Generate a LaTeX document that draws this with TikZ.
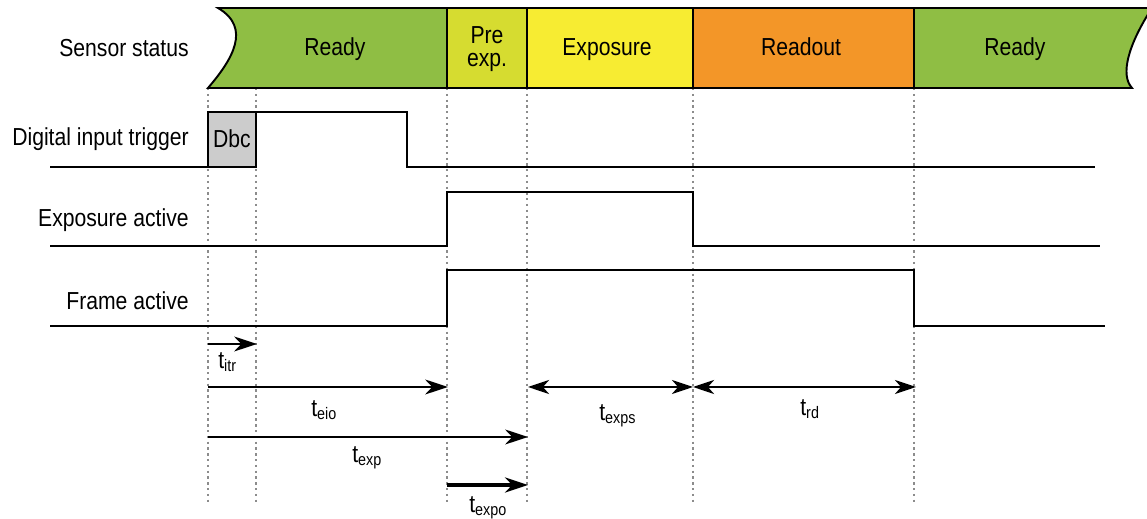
\documentclass[tikz,border=0pt]{standalone}
\usepackage{fontspec}
\setmainfont[FakeStretch=0.86]{Liberation Sans}
\usetikzlibrary{arrows.meta}
\definecolor{readyG}{RGB}{143,190,68}
\definecolor{preY}{RGB}{214,220,48}
\definecolor{expY}{RGB}{247,236,50}
\definecolor{readO}{RGB}{243,150,40}
\definecolor{dotG}{RGB}{140,140,140}
\definecolor{dbcG}{RGB}{204,204,204}
\newcommand{\tsub}[1]{{\fontsize{14}{15}\selectfont t}\raisebox{-1.2pt}{\fontsize{9.5}{10}\selectfont #1}}
\begin{document}
\begin{tikzpicture}[x=0.02cm,y=-0.02cm,
  lbl/.style={anchor=base east,font=\fontsize{14}{15}\selectfont,inner sep=0},
  stat/.style={anchor=base,font=\fontsize{14}{15}\selectfont,inner sep=0},
  sig/.style={line width=1.1pt},
  guide/.style={dotG,line width=1.2pt,dash pattern=on 1.3pt off 2pt},
  tarrow/.style={line width=1.2pt,-{Stealth[length=13pt,width=8.5pt,inset=4pt]}},
  tdarrow/.style={line width=1.2pt,{Stealth[length=12pt,width=8pt,inset=3.5pt]}-{Stealth[length=12pt,width=8pt,inset=3.5pt]}},
  tlab/.style={anchor=base west,inner sep=0}]
\useasboundingbox (0,0) rectangle (1147,519);

% time points
\foreach \n/\x in {t0/208,t1/256,t2/447,t3/527,t4/693,t5/914}{
  \coordinate (\n top) at (\x,88);
  \coordinate (\n bot) at (\x,502);
}
% guides
\foreach \n in {t0,t1,t2,t3,t4,t5}{
  \draw[guide] (\n top) -- (\n bot);
}

% status bar fills
\fill[readyG] (208,88) .. controls (232,60) and (252,28) .. (218,8) -- (447,8) -- (447,88) -- cycle;
\fill[preY] (447,8) rectangle (527,88);
\fill[expY] (527,8) rectangle (693,88);
\fill[readO] (693,8) rectangle (914,88);
\fill[readyG] (914,8) -- (1152,8) .. controls (1128,45) and (1120,75) .. (1132,88) -- (914,88) -- cycle;
\draw[sig] (208,88) .. controls (232,60) and (252,28) .. (218,8) -- (1152,8)
  .. controls (1128,45) and (1120,75) .. (1132,88) -- cycle;
\foreach \x in {447,527,693,914}{\draw[sig] (\x,8) -- (\x,88);}

\node[stat] (s1) at (335,56) {Ready};
\node[font=\fontsize{14}{13.5}\selectfont,align=center,inner sep=0] (s2) at (487,49) {Pre\\exp.};
\node[stat] (s3) at (607,56) {Exposure};
\node[stat] (s4) at (801,56) {Readout};
\node[stat] (s5) at (1015,56) {Ready};

% row labels
\node[lbl] (l1) at (189,57) {Sensor status};
\node[lbl] (l2) at (189,146) {Digital input trigger};
\node[lbl] (l3) at (189,227) {Exposure active};
\node[lbl] (l4) at (189,310) {Frame active};

% digital input trigger
\draw[sig, fill=dbcG] (208,167) rectangle (256,112);
\node[stat] (dbc) at (232,148) {Dbc};
\draw[sig] (50,167) -- (208,167);
\draw[sig] (256,112) -- (407,112) -- (407,167) -- (1095,167);

% exposure active
\draw[sig] (50,246) -- (447,246) -- (447,192) -- (693,192) -- (693,246) -- (1100,246);
% frame active
\draw[sig] (50,326) -- (447,326) -- (447,270) -- (914,270) -- (914,326) -- (1105,326);

% timing arrows
\coordinate (aitrS) at (208,344); \coordinate (aitrE) at (257,344);
\coordinate (aeioS) at (208,387); \coordinate (aeioE) at (448,387);
\coordinate (aexpS) at (208,437); \coordinate (aexpE) at (528,437);
\coordinate (aexpoS) at (447,485); \coordinate (aexpoE) at (528,485);
\coordinate (aexpsS) at (528,387); \coordinate (aexpsE) at (693,387);
\coordinate (ardS) at (693,387); \coordinate (ardE) at (916,387);

\draw[tarrow] (aitrS) -- (aitrE);
\draw[tarrow] (aeioS) -- (aeioE);
\draw[tarrow] (aexpS) -- (aexpE);
\draw[tarrow, line width=2.4pt] (aexpoS) -- (aexpoE);
\draw[tdarrow] (aexpsS) -- (aexpsE);
\draw[tdarrow] (ardS) -- (ardE);

\node[tlab] (litr) at (218,369) {\tsub{itr}};
\node[tlab] (leio) at (311,417) {\tsub{eio}};
\node[tlab] (lexp) at (352,463) {\tsub{exp}};
\node[tlab] (lexpo) at (469,513) {\tsub{expo}};
\node[tlab] (lexps) at (599,421) {\tsub{exps}};
\node[tlab] (lrd) at (800,416) {\tsub{rd}};
\end{tikzpicture}
\end{document}
